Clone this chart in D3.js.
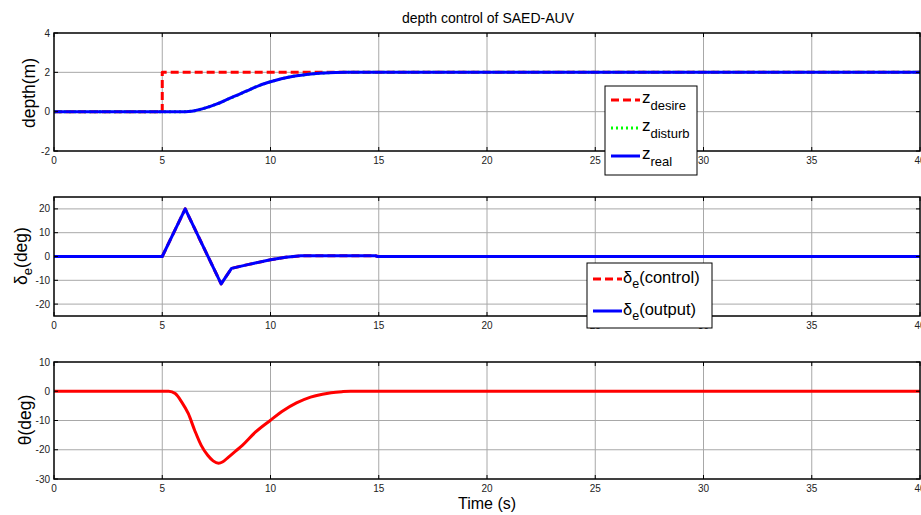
<!DOCTYPE html>
<html>
<head>
<meta charset="utf-8">
<script src="https://cdn.jsdelivr.net/npm/d3@7"></script>
<style>
  html, body { margin: 0; padding: 0; background: #fff; }
  svg { display: block; font-family: Arial, "Liberation Sans", sans-serif; }
</style>
</head>
<body>
<svg id="chart" width="921" height="515"></svg>
<script>
// ---- data ----
const xTicks = [0, 5, 10, 15, 20, 25, 30, 35, 40];

// depth panel
const depthTicks = [-2, 0, 2, 4];
const zDesireT = [0, 5, 5, 40];
const zDesire = [0, 0, 2, 2];
const zRealT = [0, 6.0, 6.2, 6.5, 7.0, 7.5, 8.0, 8.5, 9.0, 9.5, 10.0, 10.5, 11.0, 11.5, 12.0, 12.5, 13.0, 13.5, 40];
const zReal = [0, 0, 0.01, 0.05, 0.19, 0.38, 0.62, 0.86, 1.1, 1.34, 1.52, 1.67, 1.79, 1.87, 1.93, 1.97, 1.99, 2.0, 2.0];
const zDisturbT = zRealT;
const zDisturb = [0, 0, 0.01, 0.05, 0.19, 0.38, 0.62, 0.86, 1.1, 1.34, 1.52, 1.67, 1.79, 1.87, 1.93, 1.97, 1.99, 2.0, 2.0];

// elevator panel
const deltaTicks = [-20, -10, 0, 10, 20];
const deltaT = [0, 5.0, 6.06, 7.72, 8.2, 9.0, 10.0, 10.7, 11.4, 14.85, 14.95, 40];
const deltaOut = [0, 0, 20, -11.5, -5.0, -3.3, -1.4, -0.3, 0.3, 0.3, 0, 0];
const deltaCtrl = [0, 0, 20, -11.5, -5.0, -3.3, -1.4, -0.3, 0.3, 0.3, 0, 0];

// pitch panel
const thetaTicks = [-30, -20, -10, 0, 10];
const thetaT = [0, 5.3, 5.6, 5.9, 6.2, 6.5, 6.8, 7.1, 7.35, 7.6, 7.8, 8.06, 8.4, 8.7, 9.3, 10.0, 10.6, 11.2, 11.85, 12.4, 12.8, 13.3, 13.7, 40];
const theta = [0, 0, -0.8, -3.7, -7.6, -13.4, -18.5, -21.9, -23.8, -24.6, -24.1, -22.5, -20.4, -18.5, -14.0, -9.9, -6.6, -4.0, -2.0, -1.0, -0.5, -0.15, 0, 0];

// ---- layout ----
const svg = d3.select("#chart");
const left = 54, right = 920;
const x = d3.scaleLinear().domain([0, 40]).range([left, right]);

const panels = [
  { top: 33, bottom: 151, domain: [-2, 4], ticks: depthTicks },
  { top: 197, bottom: 316, domain: [-25, 25], ticks: deltaTicks },
  { top: 362, bottom: 479, domain: [-30, 10], ticks: thetaTicks }
];

panels.forEach(p => {
  p.y = d3.scaleLinear().domain(p.domain).range([p.bottom, p.top]);
  const g = svg.append("g");
  p.g = g;
  // grid
  g.selectAll("line.gx").data(xTicks.slice(1, -1)).join("line")
    .attr("x1", d => x(d)).attr("x2", d => x(d))
    .attr("y1", p.top).attr("y2", p.bottom)
    .attr("stroke", "#a8a8a8").attr("stroke-width", 1);
  g.selectAll("line.gy").data(p.ticks.filter(t => t > p.domain[0] && t < p.domain[1])).join("line")
    .attr("x1", left).attr("x2", right)
    .attr("y1", d => p.y(d)).attr("y2", d => p.y(d))
    .attr("stroke", "#a8a8a8").attr("stroke-width", 1);
});

function drawAxes(p) {
  const g = svg.append("g");
  // inward ticks on all four sides
  const tl = 4;
  xTicks.forEach(t => {
    g.append("line").attr("x1", x(t)).attr("x2", x(t)).attr("y1", p.bottom).attr("y2", p.bottom - tl).attr("stroke", "#000");
    g.append("line").attr("x1", x(t)).attr("x2", x(t)).attr("y1", p.top).attr("y2", p.top + tl).attr("stroke", "#000");
  });
  p.ticks.forEach(t => {
    g.append("line").attr("x1", left).attr("x2", left + tl).attr("y1", p.y(t)).attr("y2", p.y(t)).attr("stroke", "#000");
    g.append("line").attr("x1", right).attr("x2", right - tl).attr("y1", p.y(t)).attr("y2", p.y(t)).attr("stroke", "#000");
  });
  g.append("rect").attr("x", left).attr("y", p.top)
    .attr("width", right - left).attr("height", p.bottom - p.top)
    .attr("fill", "none").attr("stroke", "#000").attr("stroke-width", 1.5);
  // tick labels
  g.selectAll("text.xt").data(xTicks).join("text")
    .attr("x", d => x(d)).attr("y", p.bottom + 13)
    .attr("text-anchor", "middle").attr("font-size", 10).attr("fill", "#222")
    .text(d => d);
  g.selectAll("text.yt").data(p.ticks).join("text")
    .attr("x", left - 4).attr("y", d => p.y(d) + 3.5)
    .attr("text-anchor", "end").attr("font-size", 10).attr("fill", "#222")
    .text(d => d);
}

function series(p, tArr, vArr, color, dash, width, curve) {
  const pts = tArr.map((t, i) => [t, vArr[i]]);
  p.g.append("path").datum(pts)
    .attr("d", d3.line().x(d => x(d[0])).y(d => p.y(d[1])).curve(curve || d3.curveLinear))
    .attr("fill", "none").attr("stroke", color)
    .attr("stroke-width", width).attr("stroke-dasharray", dash)
    .attr("stroke-linejoin", "round");
}

// depth
series(panels[0], zDesireT, zDesire, "#ff0000", "8,4", 3);
series(panels[0], zDisturbT, zDisturb, "#00ff00", "2,3", 3, d3.curveMonotoneX);
series(panels[0], zRealT, zReal, "#0000ff", null, 3, d3.curveMonotoneX);
// elevator
series(panels[1], deltaT, deltaCtrl, "#ff0000", "8,4", 3);
series(panels[1], deltaT, deltaOut, "#0000ff", null, 3);
// pitch
series(panels[2], thetaT, theta, "#ff0000", null, 3, d3.curveMonotoneX);

panels.forEach(drawAxes);

// titles and labels
svg.append("text").attr("x", 488).attr("y", 23).attr("text-anchor", "middle")
  .attr("font-size", 14).attr("fill", "#000").text("depth control of SAED-AUV");
svg.append("text").attr("x", 487).attr("y", 509).attr("text-anchor", "middle")
  .attr("font-size", 16).attr("fill", "#000").text("Time (s)");

function ylabel(bx, cy, build) {
  const t = svg.append("text")
    .attr("transform", `translate(${bx},${cy}) rotate(-90)`)
    .attr("text-anchor", "middle").attr("font-size", 17.5).attr("fill", "#000");
  build(t);
}
ylabel(35, 93, t => t.text("depth(m)"));
ylabel(27, 256, t => {
  t.append("tspan").text("δ");
  t.append("tspan").attr("font-size", 13).attr("dy", 5).text("e");
  t.append("tspan").attr("dy", -5).text("(deg)");
});
ylabel(31, 420, t => t.text("θ(deg)"));

// legend: depth
{
  const g = svg.append("g");
  g.append("rect").attr("x", 605).attr("y", 86).attr("width", 92).attr("height", 89)
    .attr("fill", "#fff").attr("stroke", "#000").attr("stroke-width", 1);
  const items = [
    { sub: "desire", color: "#ff0000", dash: "8,4", y: 100 },
    { sub: "disturb", color: "#00ff00", dash: "2,3", y: 128 },
    { sub: "real", color: "#0000ff", dash: null, y: 156 }
  ];
  items.forEach(it => {
    g.append("line").attr("x1", 611).attr("x2", 640).attr("y1", it.y).attr("y2", it.y)
      .attr("stroke", it.color).attr("stroke-width", 3).attr("stroke-dasharray", it.dash);
    const t = g.append("text").attr("x", 642).attr("y", it.y + 3).attr("font-size", 17).attr("fill", "#000");
    t.append("tspan").text("z");
    t.append("tspan").attr("font-size", 13).attr("dy", 7).text(it.sub);
  });
}

// legend: elevator
{
  const g = svg.append("g");
  g.append("rect").attr("x", 587).attr("y", 263).attr("width", 125).attr("height", 65)
    .attr("fill", "#fff").attr("stroke", "#000").attr("stroke-width", 1);
  const items = [
    { word: "(control)", color: "#ff0000", dash: "8,4", y: 279 },
    { word: "(output)", color: "#0000ff", dash: null, y: 311 }
  ];
  items.forEach(it => {
    g.append("line").attr("x1", 593).attr("x2", 622).attr("y1", it.y).attr("y2", it.y)
      .attr("stroke", it.color).attr("stroke-width", 3).attr("stroke-dasharray", it.dash);
    const t = g.append("text").attr("x", 623).attr("y", it.y + 4).attr("font-size", 16.5).attr("fill", "#000");
    t.append("tspan").text("δ");
    t.append("tspan").attr("font-size", 12.5).attr("dy", 5).text("e");
    t.append("tspan").attr("dy", -5).text(it.word);
  });
}
</script>
</body>
</html>
